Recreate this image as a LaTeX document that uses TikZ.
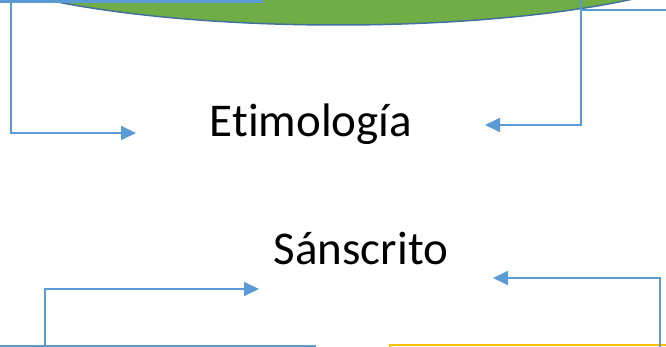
\documentclass[tikz,border=0pt]{standalone}
\usepackage{fontspec}
\setmainfont{Carlito}[Ligatures=NoCommon]
\usetikzlibrary{arrows.meta}
\definecolor{linkblue}{HTML}{5B9BD5}
\definecolor{edgeblue}{HTML}{41719C}
\definecolor{leafgreen}{HTML}{70AD47}
\definecolor{amber}{HTML}{FFC000}
\begin{document}
\begin{tikzpicture}[x=1pt,y=-1pt,
  connector/.style={draw=linkblue,line width=2pt,-{Triangle[length=15pt,width=14pt]}},
  label/.style={font=\fontsize{47}{51}\selectfont,anchor=base,inner sep=0pt}]
\useasboundingbox (0,0) rectangle (666,347);
\begin{scope}
\clip (0,0) rectangle (666,347);
% green ellipse above
\draw[fill=leafgreen,draw=edgeblue,line width=1.5pt] (338,-55) ellipse [x radius=400,y radius=80];
% boxes cut off at the edges
\draw[draw=linkblue,line width=3pt] (-10,-40) rectangle (261,1.5);
\draw[draw=linkblue,line width=2pt] (581,10) rectangle (700,-40);
\draw[draw=linkblue,line width=1.5pt] (-10,346) rectangle (315,400);
\draw[draw=amber,line width=2pt] (390,345) rectangle (700,400);
\end{scope}
% labels
\node[label] (etim) at (311,137) {Etimología};
\node[label] (sans) at (361,265) {Sánscrito};
% connector ends
\coordinate (a1) at (11,0);
\coordinate (a2) at (136,133);
\coordinate (b1) at (581,10);
\coordinate (b2) at (485,125);
\coordinate (c1) at (45,347);
\coordinate (c2) at (259,289);
\coordinate (d1) at (660,347);
\coordinate (d2) at (493,278);
\draw[connector] (a1) |- (a2);
\draw[connector] (b1) |- (b2);
\draw[connector] (c1) |- (c2);
\draw[connector] (d1) |- (d2);
\end{tikzpicture}
\end{document}
